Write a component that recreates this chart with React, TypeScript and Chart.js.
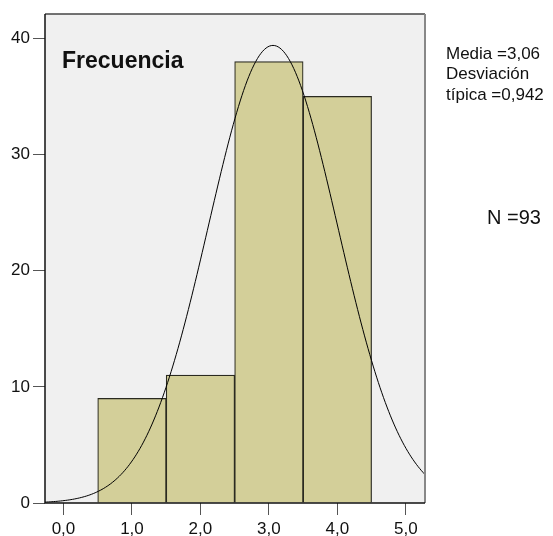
import React, { useEffect, useRef } from "react";
import { Chart, registerables } from "chart.js";

Chart.register(...registerables);

// Histogram data
const binCenters = [1, 2, 3, 4];
const binCounts = [9, 11, 38, 35];
const xTickValues = [0, 1, 2, 3, 4, 5];
const yTickValues = [0, 10, 20, 30, 40];

// Fitted normal curve statistics (as printed on the chart)
const MEAN = 3.06;
const SD = 0.942;
const N = 93;
const BIN_WIDTH = 1;

const X_MIN = -0.27;
const X_MAX = 5.28;
const Y_MAX = 42.09;

const yAxisTitle = "Frecuencia";
const statsLines = ["Media =3,06", "Desviación", "típica =0,942"];
const nLabel = "N =93";

function normalCurve() {
  const pts: { x: number; y: number }[] = [];
  const steps = 220;
  for (let i = 0; i <= steps; i++) {
    const x = X_MIN + ((X_MAX - X_MIN) * i) / steps;
    const z = (x - MEAN) / SD;
    const y = (N * BIN_WIDTH) / (SD * Math.sqrt(2 * Math.PI)) * Math.exp(-0.5 * z * z);
    pts.push({ x, y });
  }
  return pts;
}

const FONT = "Arial, 'Liberation Sans', sans-serif";

const decorPlugin = {
  id: "decor",
  beforeDraw(chart: any) {
    const { ctx, chartArea } = chart;
    const { left, top, right, bottom } = chartArea;
    ctx.save();
    ctx.fillStyle = "#f0f0f0";
    ctx.fillRect(left, top, right - left, bottom - top);
    ctx.restore();
  },
  afterDraw(chart: any) {
    const { ctx, chartArea } = chart;
    const { left, top, right, bottom } = chartArea;
    ctx.save();
    // frame
    ctx.lineWidth = 1.5;
    ctx.strokeStyle = "#444";
    ctx.beginPath();
    ctx.moveTo(left, top);
    ctx.lineTo(right, top);
    ctx.stroke();
    ctx.strokeStyle = "#888";
    ctx.lineWidth = 2;
    ctx.beginPath();
    ctx.moveTo(right, top);
    ctx.lineTo(right, bottom);
    ctx.stroke();
    ctx.strokeStyle = "#111";
    ctx.lineWidth = 1.5;
    ctx.beginPath();
    ctx.moveTo(left, top);
    ctx.lineTo(left, bottom);
    ctx.lineTo(right, bottom);
    ctx.stroke();

    // title inside plot
    ctx.fillStyle = "#111";
    ctx.font = `bold 23px ${FONT}`;
    ctx.textBaseline = "alphabetic";
    ctx.textAlign = "left";
    ctx.fillText(yAxisTitle, 62, 68);

    // stats text
    ctx.font = `17px ${FONT}`;
    statsLines.forEach((s, i) => ctx.fillText(s, 446, 58.5 + i * 20.5));
    ctx.font = `20px ${FONT}`;
    ctx.fillText(nLabel, 487, 224);
    ctx.restore();
  },
};

export default function App() {
  const ref = useRef<HTMLCanvasElement | null>(null);
  useEffect(() => {
    if (!ref.current) return;
    const chart = new Chart(ref.current, {
      data: {
        datasets: [
          {
            type: "line",
            data: normalCurve(),
            borderColor: "#000",
            borderWidth: 1,
            pointRadius: 0,
            tension: 0,
            fill: false,
            order: 0,
          } as any,
          {
            type: "bar",
            data: binCenters.map((c, i) => ({ x: c, y: binCounts[i] })),
            backgroundColor: "#d3cf99",
            borderColor: "#2a2a20",
            borderWidth: 1.2,
            barPercentage: 1,
            categoryPercentage: 1,
            order: 1,
          } as any,
        ],
      },
      options: {
        animation: false,
        responsive: false,
        maintainAspectRatio: false,
        layout: { padding: { left: 0, top: 14, right: 128, bottom: 0 } },
        plugins: { legend: { display: false }, tooltip: { enabled: false } },
        scales: {
          x: {
            type: "linear",
            min: X_MIN,
            max: X_MAX,
            offset: false,
            afterBuildTicks: (s: any) => {
              s.ticks = xTickValues.map((v) => ({ value: v }));
            },
            afterFit: (s: any) => {
              s.height = 33;
            },
            grid: { display: true, offset: false, drawOnChartArea: false, drawTicks: true, tickLength: 12, color: "#555", lineWidth: 1 },
            border: { display: false },
            ticks: {
              color: "#111",
              font: { family: FONT, size: 17 },
              padding: 4,
              maxRotation: 0,
              autoSkip: false,
              callback: (v: any) => Number(v).toFixed(1).replace(".", ","),
            },
          },
          y: {
            type: "linear",
            min: 0,
            max: Y_MAX,
            afterBuildTicks: (s: any) => {
              s.ticks = yTickValues.map((v) => ({ value: v }));
            },
            afterFit: (s: any) => {
              s.width = 45;
            },
            grid: { display: true, drawOnChartArea: false, drawTicks: true, tickLength: 12, color: "#555", lineWidth: 1 },
            border: { display: false },
            ticks: {
              color: "#111",
              font: { family: FONT, size: 17 },
              padding: 3,
              autoSkip: false,
              callback: (v: any) => String(v),
            },
          },
        },
      },
      plugins: [decorPlugin],
    });
    return () => chart.destroy();
  }, []);
  return (
    <div style={{ position: "fixed", left: 0, top: 0, width: 553, height: 536, background: "#fff" }}>
      <canvas ref={ref} width={553} height={536} style={{ width: 553, height: 536 }} />
    </div>
  );
}
